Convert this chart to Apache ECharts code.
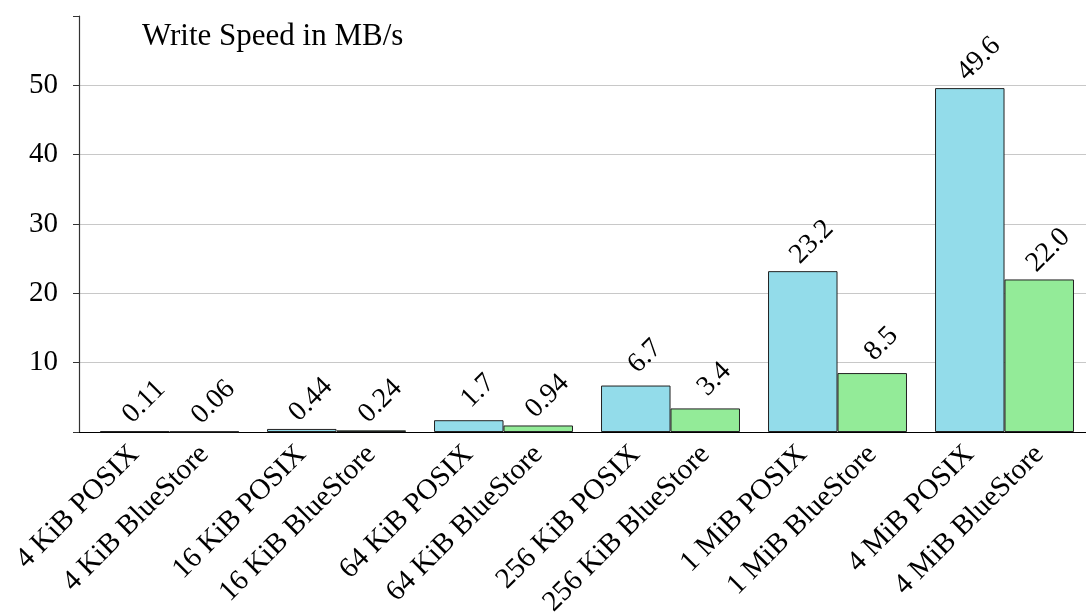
<!DOCTYPE html>
<html>
<head>
<meta charset="utf-8">
<title>Write Speed in MB/s</title>
<script src="https://cdn.jsdelivr.net/npm/echarts@6/dist/echarts.min.js"></script>
<style>
  html, body { margin: 0; padding: 0; background: #fff; }
  #chart { width: 1086px; height: 614px; }
</style>
</head>
<body>
<div id="chart"></div>
<script>
// Block sizes tested, and the write throughput (MB/s) of each backend
const sizes = ['4 KiB', '16 KiB', '64 KiB', '256 KiB', '1 MiB', '4 MiB'];
const backends = ['POSIX', 'BlueStore'];
const posixSpeed = [0.11, 0.44, 1.7, 6.7, 23.2, 49.6];
const bluestoreSpeed = [0.06, 0.24, 0.94, 3.4, 8.5, 22.0];
const backendColors = ['#93dcea', '#93eb98'];
const yTicks = [10, 20, 30, 40, 50];

const FONT = '"Liberation Serif", "DejaVu Serif", serif';
const SLOT = 0.208;          // half of a bar's width, in group units
const slotOffset = [-SLOT, SLOT];

// One bar per (size, backend) pair, placed side by side inside its size group
const bars = [];
const tickPos = [];
const tickText = [];
sizes.forEach((s, i) => {
  [posixSpeed, bluestoreSpeed].forEach((arr, b) => {
    const x = i + 0.5 + slotOffset[b];
    bars.push({ value: [x, arr[i]], itemStyle: { color: backendColors[b] } });
    tickPos.push(x);
    tickText.push(s + ' ' + backends[b]);
  });
});

const fmt = v => (v >= 10 ? v.toFixed(1) : String(v));

const chart = echarts.init(document.getElementById('chart'), null, { renderer: 'canvas' });
chart.setOption({
  animation: false,
  backgroundColor: '#ffffff',
  title: {
    text: 'Write Speed in MB/s',
    left: 137,
    top: 16,
    textStyle: { fontFamily: FONT, fontSize: 31, fontWeight: 'normal', color: '#000' }
  },
  grid: {
    left: 79, top: 16, width: 1009, height: 416,
    containLabel: false,
    outerBoundsMode: 'none'
  },
  xAxis: {
    type: 'value',
    min: -0.042,
    max: 6,
    splitLine: { show: false },
    axisLine: { show: true, onZero: false, lineStyle: { color: '#000', width: 1.2 } },
    axisTick: { show: false },
    axisLabel: {
      customValues: tickPos,
      rotate: 45,
      margin: 18,
      fontFamily: FONT,
      fontSize: 29,
      color: '#000',
      formatter: (v) => {
        const k = tickPos.findIndex(p => Math.abs(p - v) < 1e-6);
        return k >= 0 ? tickText[k] : '';
      }
    }
  },
  yAxis: {
    type: 'value',
    min: 0,
    max: 60,
    interval: 10,
    axisLine: { show: true, onZero: false, lineStyle: { color: '#333', width: 1.2 } },
    axisTick: { show: true, length: 6, lineStyle: { color: '#333' } },
    splitLine: { show: true, showMaxLine: false, lineStyle: { color: '#c8c8c8', width: 1 } },
    axisLabel: {
      margin: 21,
      fontFamily: FONT,
      fontSize: 29,
      color: '#000',
      formatter: v => (yTicks.includes(v) ? String(v) : '')
    }
  },
  series: [{
    type: 'bar',
    data: bars,
    barWidth: 69.5,
    itemStyle: { borderColor: '#222', borderWidth: 1 },
    label: {
      show: true,
      position: 'top',
      distance: 20,
      offset: [13, 0],
      rotate: 45,
      align: 'center',
      verticalAlign: 'middle',
      fontFamily: FONT,
      fontSize: 28,
      color: '#000',
      formatter: p => fmt(p.value[1])
    }
  }]
});
</script>
</body>
</html>
